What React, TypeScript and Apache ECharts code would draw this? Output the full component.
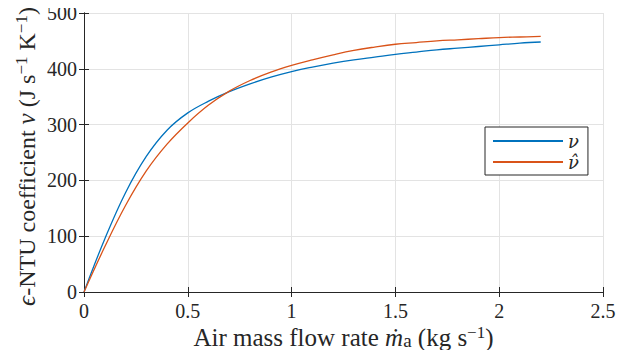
import React, { useEffect, useRef } from "react";
import * as echarts from "echarts";

const massFlow = [0, 0.1, 0.2, 0.3, 0.4, 0.5, 0.6, 0.7, 0.8, 0.9, 1.0, 1.1, 1.2, 1.3, 1.4, 1.5, 1.6, 1.7, 1.8, 1.9, 2.0, 2.1, 2.2];
const nuValues = [0, 95, 178, 243, 290, 321, 342, 359, 373, 385, 395, 403, 410, 416, 421, 426, 430, 434, 437, 440, 443, 446, 448];
const nuHatValues = [0, 81, 155, 217, 265, 303, 335, 360, 379, 394, 406, 416, 425, 433, 439, 444, 447, 450, 452, 454, 456, 457, 458];
const xTicks = { min: 0, max: 2.5, interval: 0.5 };
const yTicks = { min: 0, max: 500, interval: 100 };
const seriesNames = ["\u03bd", "\u03bd\u0302"];

const FONT = "'Liberation Serif', serif";
const LEGEND_FONT = "'DejaVu Serif', serif";
const AXIS_COLOR = "#262626";

export default function App() {
  const ref = useRef<HTMLDivElement>(null);
  useEffect(() => {
    if (!ref.current) return;
    const chart = echarts.init(ref.current, undefined, { renderer: "svg" });
    const pairs = (ys: number[]) => massFlow.map((x, i) => [x, ys[i]]);
    const boxAxis = {
      axisLine: { show: true, lineStyle: { color: AXIS_COLOR, width: 1 } },
      axisTick: { show: true, inside: true, length: 5, lineStyle: { color: AXIS_COLOR } },
      axisLabel: { show: false },
      splitLine: { show: false },
    };
    const tickRich = { t: { fontFamily: FONT, fontSize: 20, color: AXIS_COLOR } };
    const labelRich = {
      i: { fontFamily: FONT, fontStyle: "italic" as const, fontSize: 25, color: AXIS_COLOR },
      n: { fontFamily: FONT, fontSize: 19, color: AXIS_COLOR, padding: [6, 0, 0, 0] },
      sup: { fontFamily: FONT, fontSize: 17, color: AXIS_COLOR, padding: [0, 0, 10, 0] },
    };
    chart.setOption({
      animation: false,
      textStyle: { fontFamily: FONT, color: AXIS_COLOR },
      grid: { left: 84, right: 34, top: 13, bottom: 66 },
      legend: {
        orient: "vertical",
        left: 485,
        top: 127,
        padding: [5, 9, 4, 7],
        itemWidth: 70,
        itemHeight: 14,
        itemGap: 3,
        borderColor: AXIS_COLOR,
        borderWidth: 1,
        borderRadius: 0,
        backgroundColor: "#fff",
        itemStyle: { color: "rgba(0,0,0,0)", borderWidth: 0, opacity: 0 },
        textStyle: { fontFamily: LEGEND_FONT, fontStyle: "italic", fontSize: 18, color: AXIS_COLOR },
        data: seriesNames,
      },
      xAxis: [
        {
          type: "value",
          ...xTicks,
          position: "bottom",
          axisLine: { show: true, lineStyle: { color: AXIS_COLOR, width: 1 } },
          axisTick: { show: true, inside: true, length: 5, lineStyle: { color: AXIS_COLOR } },
          axisLabel: { fontFamily: FONT, fontSize: 20, color: AXIS_COLOR, margin: 9, formatter: "{t|{value}}", rich: tickRich },
          splitLine: { show: true, lineStyle: { color: "#e3e3e3", width: 1 } },
          name: "Air mass flow rate {i|\u1e41}{n|a} (kg s{sup|\u22121})",
          nameLocation: "middle",
          nameGap: 32,
          nameMoveOverlap: false,
          nameTextStyle: { fontFamily: FONT, fontSize: 25, color: AXIS_COLOR, rich: labelRich },
        },
        { type: "value", ...xTicks, position: "top", ...boxAxis },
      ],
      yAxis: [
        {
          type: "value",
          ...yTicks,
          position: "left",
          axisLine: { show: true, lineStyle: { color: AXIS_COLOR, width: 1 } },
          axisTick: { show: true, inside: true, length: 5, lineStyle: { color: AXIS_COLOR } },
          axisLabel: { fontFamily: FONT, fontSize: 20, color: AXIS_COLOR, margin: 7, formatter: "{t|{value}}", rich: tickRich },
          splitLine: { show: true, lineStyle: { color: "#e3e3e3", width: 1 } },
          name: "{i|\u03f5}-NTU coefficient {i|\u03bd} (J s{sup|\u22121} K{sup|\u22121})",
          nameLocation: "middle",
          nameGap: 44,
          nameMoveOverlap: false,
          nameRotate: 90,
          nameTextStyle: { fontFamily: FONT, fontSize: 24, color: AXIS_COLOR, rich: labelRich, padding: [0, 8, 0, 0] },
        },
        { type: "value", ...yTicks, position: "right", ...boxAxis },
      ],
      series: [
        {
          name: seriesNames[0],
          type: "line",
          data: pairs(nuValues),
          symbol: "none",
          smooth: 0.4,
          lineStyle: { color: "#0072BD", width: 1.3 },
          itemStyle: { color: "#0072BD" },
        },
        {
          name: seriesNames[1],
          type: "line",
          data: pairs(nuHatValues),
          symbol: "none",
          smooth: 0.4,
          lineStyle: { color: "#D95319", width: 1.3 },
          itemStyle: { color: "#D95319" },
        },
      ],
    });
    return () => chart.dispose();
  }, []);
  return <div ref={ref} style={{ width: 637, height: 358, margin: -8 }} />;
}
